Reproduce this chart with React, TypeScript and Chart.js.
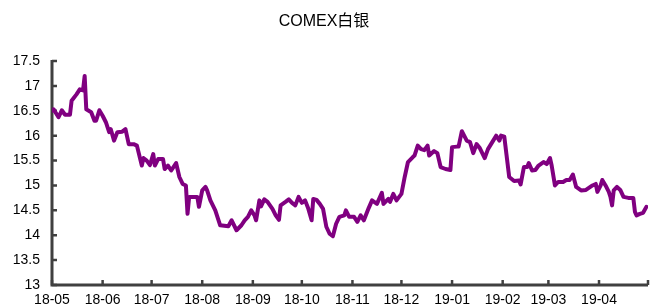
import React, { useEffect, useRef } from "react";
import { Chart, registerables } from "chart.js";

Chart.register(...registerables);

const TITLE = "COMEX白银";

const dates = [
  "2018-05-01", "2018-05-02", "2018-05-05", "2018-05-07", "2018-05-09", "2018-05-12", "2018-05-13", "2018-05-16",
  "2018-05-18", "2018-05-20", "2018-05-21", "2018-05-22", "2018-05-25", "2018-05-27", "2018-05-28", "2018-05-30",
  "2018-06-01", "2018-06-03", "2018-06-05", "2018-06-06", "2018-06-08", "2018-06-10", "2018-06-13", "2018-06-15",
  "2018-06-17", "2018-06-20", "2018-06-22", "2018-06-25", "2018-06-26", "2018-06-28", "2018-06-30", "2018-07-02",
  "2018-07-03", "2018-07-05", "2018-07-08", "2018-07-09", "2018-07-11", "2018-07-13", "2018-07-16", "2018-07-18",
  "2018-07-20", "2018-07-22", "2018-07-23", "2018-07-24", "2018-07-27", "2018-07-29", "2018-07-30", "2018-08-01",
  "2018-08-03", "2018-08-04", "2018-08-06", "2018-08-09", "2018-08-12", "2018-08-17", "2018-08-19", "2018-08-22",
  "2018-08-25", "2018-08-27", "2018-08-29", "2018-08-31", "2018-09-02", "2018-09-03", "2018-09-05", "2018-09-06",
  "2018-09-08", "2018-09-10", "2018-09-13", "2018-09-15", "2018-09-17", "2018-09-18", "2018-09-21", "2018-09-23",
  "2018-09-25", "2018-09-27", "2018-09-29", "2018-10-01", "2018-10-03", "2018-10-05", "2018-10-07", "2018-10-08",
  "2018-10-10", "2018-10-12", "2018-10-14", "2018-10-16", "2018-10-18", "2018-10-20", "2018-10-22", "2018-10-24",
  "2018-10-27", "2018-10-28", "2018-10-30", "2018-11-02", "2018-11-04", "2018-11-06", "2018-11-08", "2018-11-11",
  "2018-11-13", "2018-11-16", "2018-11-19", "2018-11-20", "2018-11-23", "2018-11-24", "2018-11-26", "2018-11-28",
  "2018-12-01", "2018-12-03", "2018-12-05", "2018-12-08", "2018-12-09", "2018-12-11", "2018-12-13", "2018-12-15",
  "2018-12-17", "2018-12-18", "2018-12-21", "2018-12-23", "2018-12-25", "2018-12-28", "2018-12-31", "2019-01-01",
  "2019-01-04", "2019-01-05", "2019-01-07", "2019-01-10", "2019-01-12", "2019-01-14", "2019-01-16", "2019-01-18",
  "2019-01-21", "2019-01-23", "2019-01-26", "2019-01-28", "2019-01-30", "2019-01-31", "2019-02-02", "2019-02-05",
  "2019-02-08", "2019-02-11", "2019-02-12", "2019-02-14", "2019-02-16", "2019-02-17", "2019-02-19", "2019-02-21",
  "2019-02-23", "2019-02-26", "2019-02-28", "2019-03-02", "2019-03-03", "2019-03-05", "2019-03-07", "2019-03-10",
  "2019-03-12", "2019-03-14", "2019-03-16", "2019-03-18", "2019-03-21", "2019-03-24", "2019-03-28", "2019-03-30",
  "2019-03-31", "2019-04-02", "2019-04-03", "2019-04-05", "2019-04-07", "2019-04-08", "2019-04-09", "2019-04-10",
  "2019-04-12", "2019-04-14", "2019-04-16", "2019-04-19", "2019-04-22", "2019-04-23", "2019-04-24", "2019-04-26",
  "2019-04-28", "2019-04-30",
];

const prices = [
  16.5, 16.53, 16.37, 16.51, 16.42, 16.42, 16.7, 16.83,
  16.93, 16.91, 17.2, 16.53, 16.47, 16.3, 16.3, 16.51,
  16.4, 16.27, 16.07, 16.13, 15.9, 16.07, 16.08, 16.13,
  15.83, 15.83, 15.8, 15.4, 15.55, 15.5, 15.41, 15.63,
  15.4, 15.53, 15.53, 15.33, 15.4, 15.3, 15.45, 15.17,
  15.03, 15.0, 14.43, 14.77, 14.77, 14.77, 14.57, 14.9,
  14.97, 14.9, 14.7, 14.5, 14.2, 14.18, 14.3, 14.1,
  14.2, 14.3, 14.37, 14.5, 14.4, 14.3, 14.7, 14.58,
  14.72, 14.67, 14.53, 14.4, 14.31, 14.6, 14.67, 14.72,
  14.65, 14.6, 14.77, 14.65, 14.7, 14.53, 14.3, 14.73,
  14.71, 14.63, 14.53, 14.17, 14.03, 13.98, 14.23, 14.37,
  14.4, 14.5, 14.37, 14.37, 14.27, 14.4, 14.3, 14.55,
  14.7, 14.63, 14.85, 14.63, 14.73, 14.67, 14.83, 14.7,
  14.83, 15.17, 15.47, 15.57, 15.6, 15.8, 15.73, 15.71,
  15.8, 15.6, 15.69, 15.65, 15.37, 15.33, 15.31, 15.77,
  15.78, 15.78, 16.09, 15.9, 15.87, 15.65, 15.83, 15.75,
  15.55, 15.73, 15.89, 16.0, 15.9, 16.0, 15.98, 15.17,
  15.09, 15.1, 15.02, 15.37, 15.37, 15.45, 15.3, 15.31,
  15.4, 15.47, 15.43, 15.55, 15.4, 15.0, 15.07, 15.07,
  15.11, 15.11, 15.22, 14.97, 14.9, 14.91, 15.0, 15.03,
  14.87, 15.0, 15.11, 15.0, 14.87, 14.77, 14.6, 14.9,
  14.97, 14.91, 14.77, 14.75, 14.75, 14.47, 14.4, 14.43,
  14.45, 14.57,
];

const monthTicks = [
  "2018-05-01", "2018-06-01", "2018-07-01", "2018-08-01", "2018-09-01", "2018-10-01",
  "2018-11-01", "2018-12-01", "2019-01-01", "2019-02-01", "2019-03-01", "2019-04-01",
];
const monthLabels = [
  "18-05", "18-06", "18-07", "18-08", "18-09", "18-10",
  "18-11", "18-12", "19-01", "19-02", "19-03", "19-04",
];
const axisEnd = "2019-05-01";
const yTicks = [13, 13.5, 14, 14.5, 15, 15.5, 16, 16.5, 17, 17.5];

const FONT = "'Liberation Sans', Arial, 'Noto Sans CJK SC', sans-serif";

const dayOf = (s: string) =>
  (Date.UTC(+s.slice(0, 4), +s.slice(5, 7) - 1, +s.slice(8, 10)) - Date.UTC(2018, 4, 1)) / 86400000;

const axisPlugin = {
  id: "axisMarks",
  beforeDatasetsDraw(chart: any) {
    const { ctx, chartArea, scales } = chart;
    const { left, right, top, bottom } = chartArea;
    const x = scales.x;
    const y = scales.y;
    ctx.save();
    ctx.strokeStyle = "#404040";
    ctx.lineWidth = 3;
    ctx.beginPath();
    ctx.moveTo(left, top - 1);
    ctx.lineTo(left, bottom);
    ctx.lineTo(right, bottom);
    ctx.stroke();
    ctx.lineWidth = 2.5;
    ctx.beginPath();
    yTicks.forEach((v) => {
      const py = y.getPixelForValue(v);
      ctx.moveTo(left, py);
      ctx.lineTo(left + 5, py);
    });
    [...monthTicks, axisEnd].forEach((d) => {
      const px = x.getPixelForValue(dayOf(d));
      ctx.moveTo(px, bottom);
      ctx.lineTo(px, bottom - 5);
    });
    ctx.stroke();
    ctx.restore();
  },
};

export default function App() {
  const ref = useRef<HTMLCanvasElement>(null);
  useEffect(() => {
    if (!ref.current) return;
    const points = dates.map((d, i) => ({ x: dayOf(d), y: prices[i] }));
    const chart = new Chart(ref.current, {
      type: "line",
      data: {
        datasets: [
          {
            data: points,
            borderColor: "#800080",
            borderWidth: 4,
            borderJoinStyle: "round",
            borderCapStyle: "round",
            pointRadius: 0,
            tension: 0,
            fill: false,
          },
        ],
      },
      options: {
        animation: false,
        responsive: false,
        devicePixelRatio: 1,
        layout: { padding: { left: 0, right: 3, top: 0, bottom: 0 } },
        plugins: {
          legend: { display: false },
          tooltip: { enabled: false },
          title: {
            display: true,
            text: TITLE,
            color: "#000",
            font: { family: FONT, size: 16, weight: "normal" },
            padding: { top: 12, bottom: 29.8 },
          },
        },
        scales: {
          x: {
            type: "linear",
            min: 0,
            max: dayOf(axisEnd),
            grid: { display: false, drawTicks: false },
            border: { display: false },
            afterBuildTicks: (s: any) => {
              s.ticks = monthTicks.map((d) => ({ value: dayOf(d) }));
            },
            afterFit: (s: any) => {
              s.height = 23;
            },
            ticks: {
              autoSkip: false,
              maxRotation: 0,
              padding: 7,
              color: "#000",
              font: { family: FONT, size: 14 },
              callback: (_v: any, i: number) => monthLabels[i],
            },
          },
          y: {
            type: "linear",
            min: 13,
            max: 17.5,
            grid: { display: false, drawTicks: false },
            border: { display: false },
            afterBuildTicks: (s: any) => {
              s.ticks = yTicks.map((v) => ({ value: v }));
            },
            afterFit: (s: any) => {
              s.width = 52;
            },
            ticks: {
              padding: 12,
              color: "#000",
              font: { family: FONT, size: 14 },
              callback: (v: any) => String(v),
            },
          },
        },
      },
      plugins: [axisPlugin],
    } as any);
    return () => chart.destroy();
  }, []);
  return (
    <div style={{ position: "absolute", left: 0, top: 0, width: 651, height: 308 }}>
      <canvas ref={ref} width={651} height={308} style={{ display: "block" }} />
    </div>
  );
}
